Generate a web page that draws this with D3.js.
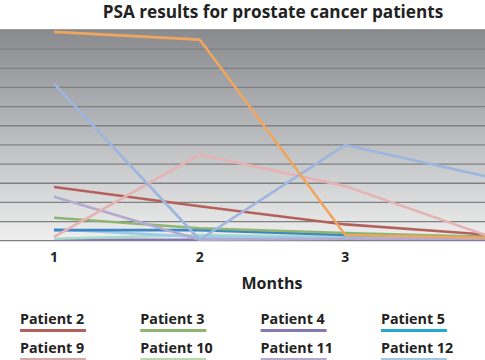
<!DOCTYPE html>
<html>
<head>
<meta charset="utf-8">
<script src="https://cdn.jsdelivr.net/npm/d3@7"></script>
<style>
  body { margin: 0; background: #fff; }
  svg { display: block; font-family: "Open Sans", sans-serif; }
</style>
</head>
<body>
<div id="chart"></div>
<script>
// Months on the x axis
const months = [1, 2, 3, 4];
const tickMonths = [1, 2, 3];
const gridValues = d3.range(0, 12);

// PSA values per patient, one per month
const patientNames = ["Patient 1", "Patient 6", "Patient 9", "Patient 2", "Patient 11", "Patient 3",
                      "Patient 5", "Patient 12", "Patient 10", "Patient 4"];
const patientValues = [
    [10.9, 10.5, 0.3, 0.15],
    [8.2, 0.05, 5.0, 3.3],
    [0.2, 4.5, 2.85, 0.2],
    [2.8, 1.8, 0.85, 0.3],
    [2.3, 0.05, 0.1, 0.1],
    [1.2, 0.65, 0.4, 0.2],
    [0.55, 0.55, 0.3, 0.2],
    [0.6, 0.2, 0.15, 0.1],
    [0.1, 0.3, 0.2, 0.1],
    [0.05, 0.05, 0.1, 0.05]
];
const patientColors = ["#efa65e", "#9cb6df", "#e6b3b3", "#b5615b", "#b4aad0", "#8fb573",
                       "#3d86c6", "#9dcbe8", "#a9dcc8", "#8478b4"];

// Legend entries shown below the chart
const legendNames = ["Patient 2", "Patient 3", "Patient 4", "Patient 5",
                     "Patient 9", "Patient 10", "Patient 11", "Patient 12"];
const legendColors = ["#b5615b", "#8fb573", "#8478b4", "#22a8d2",
                      "#d9a9a8", "#b9d8ad", "#b2a8d0", "#9dc9e6"];

const width = 485, height = 360;
const plot = {top: 30, bottom: 240.7, left: 0, right: 485};

const svg = d3.select("#chart").append("svg")
    .attr("width", width)
    .attr("height", height);

const x = d3.scaleLinear().domain([1, 4]).range([54, 491]);
const y = d3.scaleLinear().domain([0, 11]).range([plot.bottom, plot.top]);

// Background gradient
const grad = svg.append("defs").append("linearGradient")
    .attr("id", "bg")
    .attr("x1", 0).attr("y1", 0).attr("x2", 0).attr("y2", 1);
grad.append("stop").attr("offset", "0%").attr("stop-color", "#8a8b8f");
grad.append("stop").attr("offset", "55%").attr("stop-color", "#bfc0c2");
grad.append("stop").attr("offset", "100%").attr("stop-color", "#efefef");

svg.append("rect")
    .attr("x", plot.left)
    .attr("y", plot.top)
    .attr("width", plot.right - plot.left)
    .attr("height", plot.bottom - plot.top)
    .attr("fill", "url(#bg)");

// Gridlines
svg.append("g")
  .selectAll("line")
  .data(gridValues)
  .join("line")
    .attr("x1", plot.left)
    .attr("x2", plot.right)
    .attr("y1", d => y(d))
    .attr("y2", d => y(d))
    .attr("stroke", "#7f8083")
    .attr("stroke-width", 1.3);

// Lines
const line = d3.line()
    .x((d, i) => x(months[i]))
    .y(d => y(d));

svg.append("g")
  .selectAll("path")
  .data(patientValues.map((v, i) => ({name: patientNames[i], values: v, color: patientColors[i]})).reverse())
  .join("path")
    .attr("d", d => line(d.values))
    .attr("fill", "none")
    .attr("stroke", d => d.color)
    .attr("stroke-width", 2.6)
    .attr("stroke-linejoin", "round");

// X axis labels
svg.append("g")
  .selectAll("text")
  .data(tickMonths)
  .join("text")
    .attr("x", d => x(d))
    .attr("y", 262)
    .attr("text-anchor", "middle")
    .attr("font-size", 14)
    .attr("font-weight", "bold")
    .attr("fill", "#222")
    .text(d => d);

svg.append("text")
    .attr("x", 272)
    .attr("y", 289)
    .attr("text-anchor", "middle")
    .attr("font-size", 16)
    .attr("font-weight", "bold")
    .attr("fill", "#222")
    .text("Months");

svg.append("text")
    .attr("x", 273)
    .attr("y", 18)
    .attr("text-anchor", "middle")
    .attr("font-size", 17.2)
    .attr("font-weight", "bold")
    .attr("fill", "#222")
    .text("PSA results for prostate cancer patients");

// Legend
const legend = svg.append("g")
  .selectAll("g")
  .data(legendNames)
  .join("g")
    .attr("transform", (d, i) => "translate(" + (20 + (i % 4) * 120.3) + "," + (324 + Math.floor(i / 4) * 29) + ")");

legend.append("text")
    .attr("font-size", 14.3)
    .attr("font-weight", "bold")
    .attr("fill", "#222")
    .text(d => d);

legend.append("line")
    .attr("x1", 0)
    .attr("x2", 66)
    .attr("y1", 6.5)
    .attr("y2", 6.5)
    .attr("stroke", (d, i) => legendColors[i])
    .attr("stroke-width", 3);
</script>
</body>
</html>
